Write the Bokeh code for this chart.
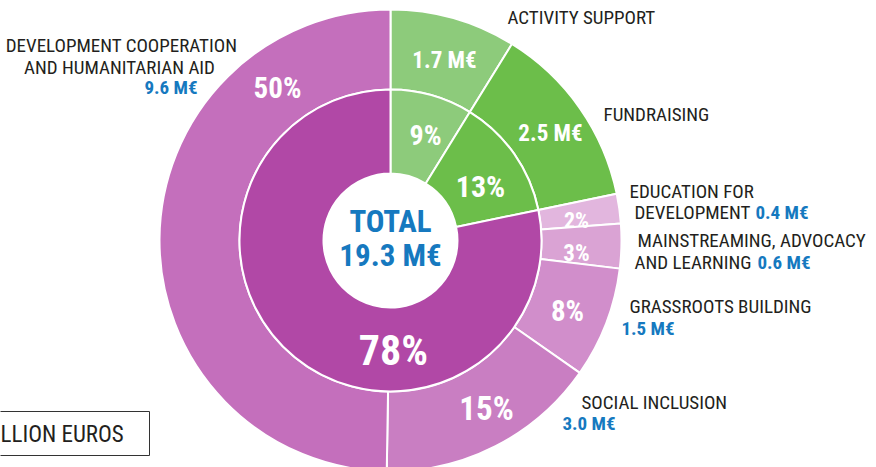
import numpy as np
from bokeh.plotting import figure
from bokeh.models import ColumnDataSource, Range1d
from bokeh.core.properties import value
from bokeh.embed import file_html
from bokeh.resources import INLINE

# ---------------- data ----------------
outer_labels = ["ACTIVITY SUPPORT", "FUNDRAISING", "EDUCATION FOR DEVELOPMENT",
                "MAINSTREAMING, ADVOCACY AND LEARNING", "GRASSROOTS BUILDING",
                "SOCIAL INCLUSION", "DEVELOPMENT COOPERATION AND HUMANITARIAN AID"]
outer_values = [1.7, 2.5, 0.4, 0.6, 1.5, 3.0, 9.6]
outer_pct = [9, 13, 2, 3, 8, 15, 50]
inner_labels = ["Activity support", "Fundraising", "Programmes"]
inner_values = [1.7, 2.5, 15.1]
inner_pct = [9, 13, 78]
total_value = 19.3

# ---------------- style ----------------
outer_colors = ["#8DCB7B", "#6CBE4A", "#E2B6DE", "#DAA3D4", "#D18ECB", "#C97EC2", "#C46FBC"]
inner_colors = ["#8DCB7B", "#6CBE4A", "#B148A6"]
BLUE = "#1679BF"
DARK = "#231F20"
FONT = "Roboto Condensed"

W, H = 876, 467
def px(X, Y):
    # reference pixel -> data coordinates (1 unit = 1 px)
    return X, H - Y

cx, cy = px(390, 240)
R_HOLE, R_MID, R_OUT = 67, 151, 231

p = figure(width=W, height=H, output_backend="svg", toolbar_location=None,
           x_range=Range1d(0, W), y_range=Range1d(0, H), min_border=0)
p.axis.visible = False
p.grid.visible = False
p.outline_line_color = None
p.background_fill_color = "white"
p.border_fill_color = "white"

def angles(vals):
    v = np.array(vals, dtype=float)
    frac = v / v.sum()
    c = np.concatenate([[0.0], np.cumsum(frac)])
    start = np.pi / 2 - c[:-1] * 2 * np.pi
    end = np.pi / 2 - c[1:] * 2 * np.pi
    return start, end

s_o, e_o = angles(outer_values)
src_o = ColumnDataSource(dict(start=s_o, end=e_o, color=outer_colors, label=outer_labels,
                              val=outer_values))
p.annular_wedge(x=cx, y=cy, inner_radius=R_MID, outer_radius=R_OUT,
                start_angle="start", end_angle="end", direction="clock",
                fill_color="color", line_color="white", line_width=2, source=src_o)

s_i, e_i = angles(inner_values)
src_i = ColumnDataSource(dict(start=s_i, end=e_i, color=inner_colors, label=inner_labels,
                              val=inner_values))
p.annular_wedge(x=cx, y=cy, inner_radius=R_HOLE, outer_radius=R_MID,
                start_angle="start", end_angle="end", direction="clock",
                fill_color="color", line_color="white", line_width=2, source=src_i)

def txt(X, Y, s, size, color, bold=False, align="left"):
    x, y = px(X, Y)
    p.text(x=[x], y=[y], text=[s], text_font=value(FONT), text_font_size=f"{size}px",
           text_color=color, text_align=align, text_baseline="middle",
           text_font_style="bold" if bold else "normal")

# in-ring labels
ring_texts = [f"{outer_values[0]:.1f} M€", f"{outer_values[1]:.1f} M€"] + [f"{v}%" for v in outer_pct[2:]]
ring_pos = [(444, 60, 23), (550, 133, 23), (576, 220, 22), (576, 253, 23),
            (567, 310, 29), (486, 408, 33), (277, 87, 29)]
for t, (X, Y, s) in zip(ring_texts, ring_pos):
    txt(X, Y, t, s, "white", bold=True, align="center")

inner_pos = [(425, 135, 28), (480, 186, 30), (393, 350, 42)]
for v, (X, Y, s) in zip(inner_pct, inner_pos):
    txt(X, Y, f"{v}%", s, "white", bold=True, align="center")

# centre total
txt(390, 221, "TOTAL", 31, BLUE, bold=True, align="center")
txt(390, 255, f"{total_value:.1f} M€", 31, BLUE, bold=True, align="center")

# outside labels
LS = 19
txt(507, 17, outer_labels[0], LS, DARK)
txt(603, 114, outer_labels[1], LS, DARK)
txt(629, 191, "EDUCATION FOR", LS, DARK)
txt(634, 212, "DEVELOPMENT", LS, DARK)
txt(755, 212, f"{outer_values[2]:.1f} M€", LS, BLUE, bold=True)
txt(637, 240, "MAINSTREAMING, ADVOCACY", LS, DARK)
txt(634, 262, "AND LEARNING", LS, DARK)
txt(757, 262, f"{outer_values[3]:.1f} M€", LS, BLUE, bold=True)
txt(629, 306, outer_labels[4], LS, DARK)
txt(621, 328, f"{outer_values[4]:.1f} M€", LS, BLUE, bold=True)
txt(581, 402, outer_labels[5], LS, DARK)
txt(562, 423, f"{outer_values[5]:.1f} M€", LS, BLUE, bold=True)
txt(121, 45, "DEVELOPMENT COOPERATION", LS, DARK, align="center")
txt(119, 67, "AND HUMANITARIAN AID", LS, DARK, align="center")
txt(144, 87, f"{outer_values[6]:.1f} M€", LS, BLUE, bold=True)

# unit box (partly cut off at left)
bl, bt = px(-20, 411)
br, bb = px(149, 455)
p.quad(left=[bl], right=[br], top=[bt], bottom=[bb], fill_color=None,
       line_color="#333333", line_width=1)
txt(0, 434, "LLION EUROS", 23, DARK)

open("out.html", "w").write(file_html(p, INLINE))
